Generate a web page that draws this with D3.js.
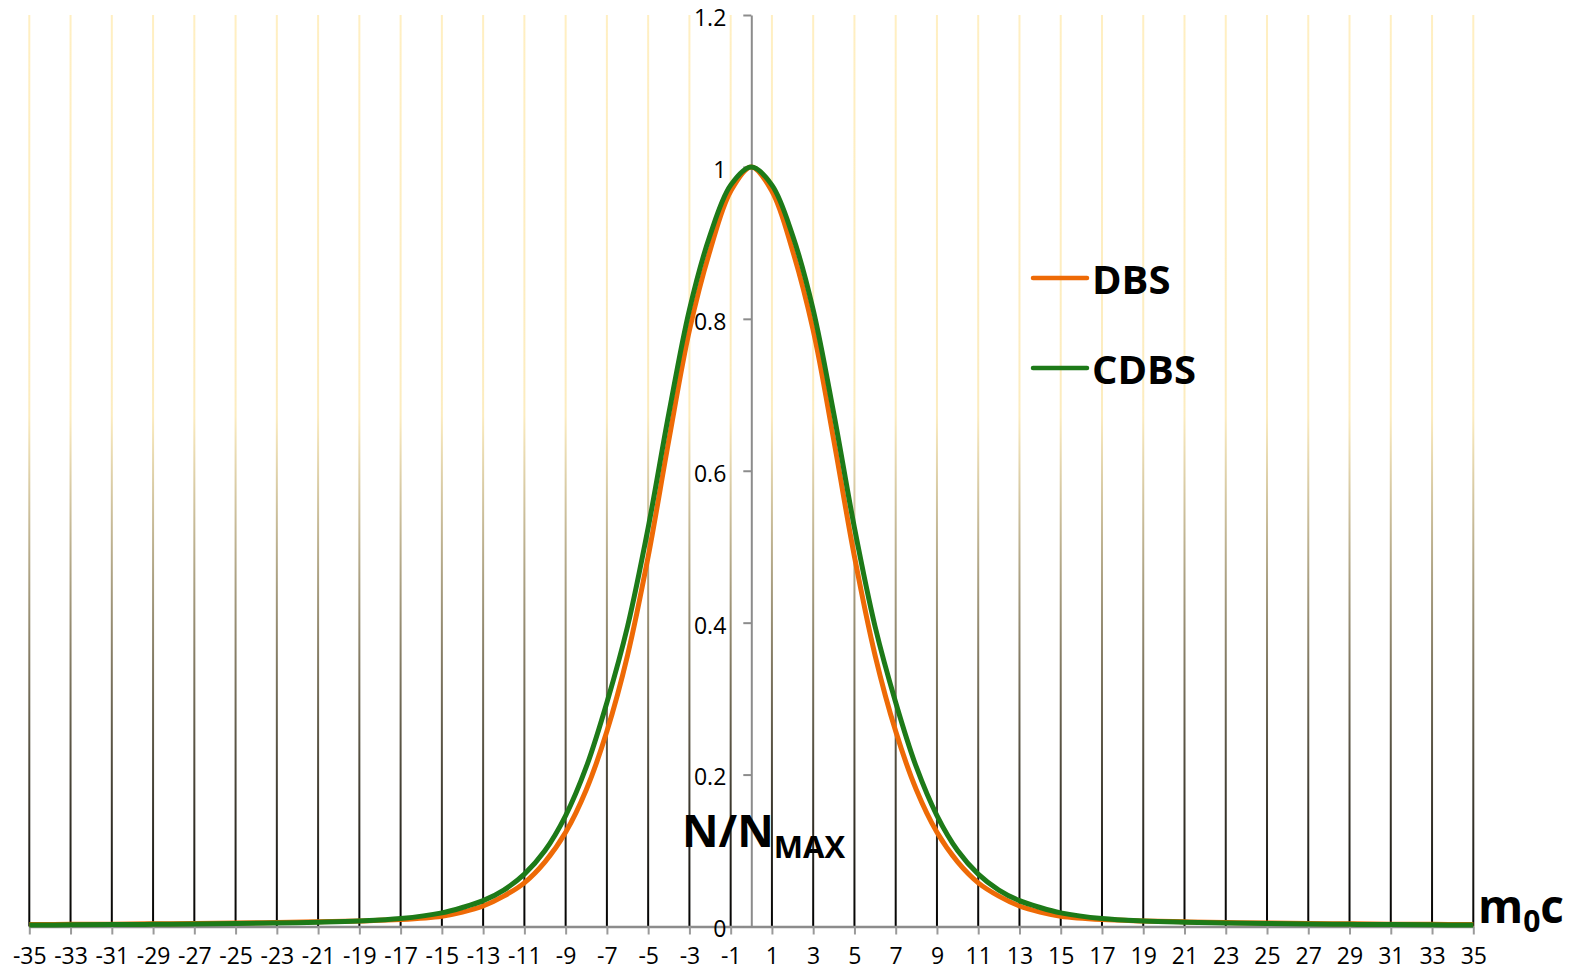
<!DOCTYPE html>
<html>
<head>
<meta charset="utf-8">
<script src="https://cdn.jsdelivr.net/npm/d3@7"></script>
<style>
    body { margin: 0; background: #ffffff; }
    svg { display: block; font-family: "Open Sans", sans-serif; }
</style>
</head>
<body>
<div id="chart"></div>
<script>
const xValues = [-35, -33, -31, -29, -27, -25, -23, -21, -19, -17, -15, -14,
                 -13, -12, -11, -10, -9, -8, -7, -6, -5, -4, -3, -2, -1, 0,
                 1, 2, 3, 4, 5, 6, 7, 8, 9, 10, 11, 12, 13, 14, 15, 17, 19,
                 21, 23, 25, 27, 29, 31, 33, 35];

// N/NMAX for DBS
const dbsValues = [0.0025, 0.0028, 0.0031, 0.0035, 0.004, 0.0046, 0.0053,
                   0.0062, 0.0074, 0.0092, 0.0136, 0.019, 0.027, 0.04, 0.0575,
                   0.085, 0.124, 0.18, 0.257, 0.357, 0.487, 0.64, 0.785, 0.89,
                   0.968, 1.0,
                   0.968, 0.89, 0.785, 0.64, 0.487, 0.357, 0.257, 0.18, 0.124,
                   0.085, 0.0575, 0.04, 0.027, 0.019, 0.0136, 0.0092, 0.0074,
                   0.0062, 0.0053, 0.0046, 0.004, 0.0035, 0.0031, 0.0028,
                   0.0025];

// N/NMAX for CDBS
const cdbsValues = [0.002, 0.0022, 0.0025, 0.0028, 0.0033, 0.0039, 0.0046,
                    0.0056, 0.0072, 0.0105, 0.018, 0.025, 0.034, 0.048, 0.069,
                    0.10, 0.146, 0.21, 0.295, 0.395, 0.525, 0.675, 0.812, 0.91,
                    0.976, 1.0,
                    0.976, 0.91, 0.812, 0.675, 0.525, 0.395, 0.295, 0.21, 0.146,
                    0.10, 0.069, 0.048, 0.034, 0.025, 0.018, 0.0105, 0.0072,
                    0.0056, 0.0046, 0.0039, 0.0033, 0.0028, 0.0025, 0.0022,
                    0.002];

const xTickValues = [-35, -33, -31, -29, -27, -25, -23, -21, -19, -17, -15,
                     -13, -11, -9, -7, -5, -3, -1, 1, 3, 5, 7, 9, 11, 13, 15,
                     17, 19, 21, 23, 25, 27, 29, 31, 33, 35];
const yTickValues = [0, 0.2, 0.4, 0.6, 0.8, 1, 1.2];

const seriesNames = ["DBS", "CDBS"];
const seriesColors = ["#ee6a06", "#1d7a18"];


window.onload = function() {
    main();
};


/**
 * Draws the gridlines, axes, both curves, legend and axis titles.
 */
function main() {
    let w = 1579;
    let h = 977;

    let svg = d3.select("#chart")
                .append("svg")
                .attr("width", w)
                .attr("height", h);

    let xScale = d3.scaleLinear()
                   .domain([-35, 35])
                   .range([29.3, 1473.3]);

    let yScale = d3.scaleLinear()
                   .domain([0, 1.2])
                   .range([926.5, 15]);

    // gradient for the vertical gridlines: pale yellow on top, black below
    let grad = svg.append("defs")
                  .append("linearGradient")
                  .attr("id", "gridGrad")
                  .attr("gradientUnits", "userSpaceOnUse")
                  .attr("x1", 0).attr("x2", 0)
                  .attr("y1", yScale(1.2)).attr("y2", yScale(0));
    grad.append("stop").attr("offset", "0%").attr("stop-color", "#ffefc2");
    grad.append("stop").attr("offset", "44%").attr("stop-color", "#fcecbf");
    grad.append("stop").attr("offset", "100%").attr("stop-color", "#000000");

    // vertical gridlines
    svg.append("g")
       .selectAll("line")
       .data(xTickValues)
       .enter()
       .append("line")
       .attr("x1", d => xScale(d))
       .attr("x2", d => xScale(d))
       .attr("y1", yScale(1.2))
       .attr("y2", yScale(0))
       .attr("stroke", "url(#gridGrad)")
       .attr("stroke-width", 2);

    // x axis (horizontal, at y = 0)
    let xAxis = d3.axisBottom(xScale)
                  .tickValues(xTickValues)
                  .tickFormat(d => String(d))
                  .tickSize(8)
                  .tickPadding(13)
                  .tickSizeOuter(0);

    let gx = svg.append("g")
                .attr("transform", "translate(0," + yScale(0) + ")")
                .call(xAxis);
    gx.select(".domain")
      .attr("stroke", "#8c8c8c")
      .attr("stroke-width", 2.5);
    gx.selectAll(".tick line")
      .attr("stroke", "#9a9a9a")
      .attr("stroke-width", 2);
    gx.selectAll(".tick text")
      .attr("font-size", "23px")
      .attr("font-family", "Open Sans")
      .attr("fill", "#000");

    // y axis (vertical, at x = 0)
    let yAxis = d3.axisLeft(yScale)
                  .tickValues(yTickValues)
                  .tickFormat(d => String(d))
                  .tickSize(8)
                  .tickPadding(17)
                  .tickSizeOuter(0);

    let gy = svg.append("g")
                .attr("transform", "translate(" + xScale(0) + ",0)")
                .call(yAxis);
    gy.select(".domain")
      .attr("stroke", "#8c8c8c")
      .attr("stroke-width", 2);
    gy.selectAll(".tick line")
      .attr("stroke", "#8c8c8c")
      .attr("stroke-width", 2);
    gy.selectAll(".tick text")
      .attr("font-size", "23px")
      .attr("font-family", "Open Sans")
      .attr("fill", "#000")
      .attr("dy", "0.45em");

    // curves
    let line = d3.line()
                 .x((d, i) => xScale(xValues[i]))
                 .y(d => yScale(d))
                 .curve(d3.curveCatmullRom.alpha(0.5));

    let series = [dbsValues, cdbsValues];
    svg.append("g")
       .selectAll("path")
       .data(series)
       .enter()
       .append("path")
       .attr("d", d => line(d))
       .attr("fill", "none")
       .attr("stroke", (d, i) => seriesColors[i])
       .attr("stroke-width", 5)
       .attr("stroke-linejoin", "round");

    // legend
    let legendY = [278, 368];
    let legend = svg.append("g");
    legend.selectAll("line")
          .data(seriesNames)
          .enter()
          .append("line")
          .attr("x1", 1033)
          .attr("x2", 1087)
          .attr("y1", (d, i) => legendY[i])
          .attr("y2", (d, i) => legendY[i])
          .attr("stroke", (d, i) => seriesColors[i])
          .attr("stroke-width", 4.5)
          .attr("stroke-linecap", "round");
    legend.selectAll("text")
          .data(seriesNames)
          .enter()
          .append("text")
          .attr("x", 1092)
          .attr("y", (d, i) => legendY[i] + 16)
          .attr("font-size", "40px")
          .attr("font-weight", "bold")
          .attr("fill", "#000")
          .text(d => d);

    // y axis title N/NMAX
    let yTitle = svg.append("text")
                    .attr("x", 682)
                    .attr("y", 847)
                    .attr("font-size", "45px")
                    .attr("font-weight", "bold")
                    .attr("fill", "#000");
    yTitle.append("tspan").text("N/N");
    yTitle.append("tspan")
          .attr("font-size", "31px")
          .attr("dy", 11)
          .text("MAX");

    // x axis title m0c
    let xTitle = svg.append("text")
                    .attr("x", 1478)
                    .attr("y", 923)
                    .attr("font-size", "46px")
                    .attr("font-weight", "bold")
                    .attr("fill", "#000");
    xTitle.append("tspan").text("m");
    xTitle.append("tspan")
          .attr("font-size", "30px")
          .attr("dy", 9)
          .text("0");
    xTitle.append("tspan")
          .attr("dy", -9)
          .text("c");
}
</script>
</body>
</html>
